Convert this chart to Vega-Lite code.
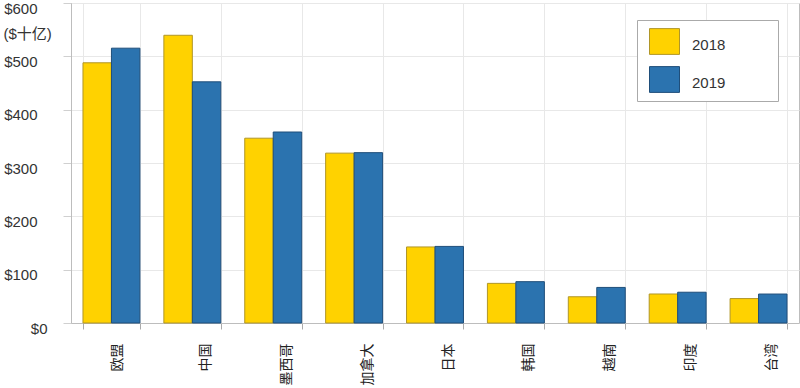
{
  "$schema": "https://vega.github.io/schema/vega-lite/v6.json",
  "width": 728,
  "height": 320,
  "autosize": {"type": "none"},
  "padding": {"left": 71, "top": 3, "right": 1, "bottom": 65},
  "background": "white",
  "config": {
    "view": {"stroke": "#bdbdbd", "strokeWidth": 1},
    "font": "Liberation Sans"
  },
  "data": {
    "values": [
      {"country": "欧盟", "year": "2018", "value": 487.9},
      {"country": "欧盟", "year": "2019", "value": 515.3},
      {"country": "中国", "year": "2018", "value": 539.5},
      {"country": "中国", "year": "2019", "value": 452.2},
      {"country": "墨西哥", "year": "2018", "value": 346.5},
      {"country": "墨西哥", "year": "2019", "value": 358.1},
      {"country": "加拿大", "year": "2018", "value": 318.5},
      {"country": "加拿大", "year": "2019", "value": 319.4},
      {"country": "日本", "year": "2018", "value": 142.6},
      {"country": "日本", "year": "2019", "value": 143.6},
      {"country": "韩国", "year": "2018", "value": 74.3},
      {"country": "韩国", "year": "2019", "value": 77.5},
      {"country": "越南", "year": "2018", "value": 49.2},
      {"country": "越南", "year": "2019", "value": 66.7},
      {"country": "印度", "year": "2018", "value": 54.4},
      {"country": "印度", "year": "2019", "value": 57.7},
      {"country": "台湾", "year": "2018", "value": 45.8},
      {"country": "台湾", "year": "2019", "value": 54.3}
    ]
  },
  "mark": {"type": "bar", "strokeWidth": 1},
  "encoding": {
    "x": {
      "field": "country",
      "type": "nominal",
      "sort": ["欧盟", "中国", "墨西哥", "加拿大", "日本", "韩国", "越南", "印度", "台湾"],
      "scale": {"paddingInner": 0.296, "paddingOuter": 0.148},
      "axis": {
        "title": null,
        "labelAngle": -90,
        "labelAlign": "right",
        "labelBaseline": "middle",
        "labelFont": "Noto Sans CJK SC",
        "labelFontSize": 14,
        "labelColor": "#222222",
        "labelPadding": 14,
        "labelOffset": {"condition": {"test": "datum.value == '欧盟'", "value": 6}, "value": 13},
        "tickBand": "extent",
        "tickSize": 6,
        "tickColor": "#aaaaaa",
        "domainColor": "#bdbdbd",
        "grid": true,
        "gridColor": "#e8e8e8"
      }
    },
    "xOffset": {"field": "year", "type": "nominal"},
    "y": {
      "field": "value",
      "type": "quantitative",
      "scale": {"domain": [0, 600], "nice": false},
      "axis": {
        "title": "($十亿)",
        "titleAngle": 0,
        "titleAlign": "left",
        "titleBaseline": "middle",
        "titleX": -68,
        "titleY": 30,
        "titleFont": "Liberation Sans, Noto Sans CJK SC",
        "titleFontSize": 15,
        "titleFontWeight": "normal",
        "titleColor": "#333333",
        "values": [0, 100, 200, 300, 400, 500, 600],
        "format": "$d",
        "labelFontSize": 15,
        "labelColor": "#333333",
        "labelAlign": "right",
        "labelBaseline": "middle",
        "labelOffset": 5,
        "labelPadding": {"condition": {"test": "datum.value == 0", "value": 16}, "value": 26},
        "tickSize": 8,
        "tickColor": "#d0d0d0",
        "domainColor": "#bdbdbd",
        "gridColor": "#e8e8e8"
      }
    },
    "color": {
      "field": "year",
      "type": "nominal",
      "scale": {"domain": ["2018", "2019"], "range": ["#FFD200", "#2B73AF"]},
      "legend": {
        "orient": "none",
        "legendX": 566,
        "legendY": 17,
        "title": null,
        "padding": 6,
        "strokeColor": "#aaaaaa",
        "fillColor": "white",
        "symbolType": "M-1,-0.86L1,-0.86L1,0.86L-1,0.86Z",
        "symbolSize": 900,
        "symbolStrokeWidth": 1,
        "symbolOffset": 6,
        "labelFont": "Liberation Sans",
        "labelFontSize": 15,
        "labelColor": "#333333",
        "labelOffset": 12,
        "rowPadding": 7,
        "labelExpr": "datum.label + '\u00a0\u00a0\u00a0\u00a0\u00a0\u00a0\u00a0\u00a0\u00a0\u00a0\u00a0\u200b'",
        "encode": {"labels": {"update": {"dy": {"value": 3}}}}
      }
    },
    "stroke": {
      "field": "year",
      "type": "nominal",
      "scale": {"domain": ["2018", "2019"], "range": ["#B09628", "#1F4E7A"]}
    }
  }
}
